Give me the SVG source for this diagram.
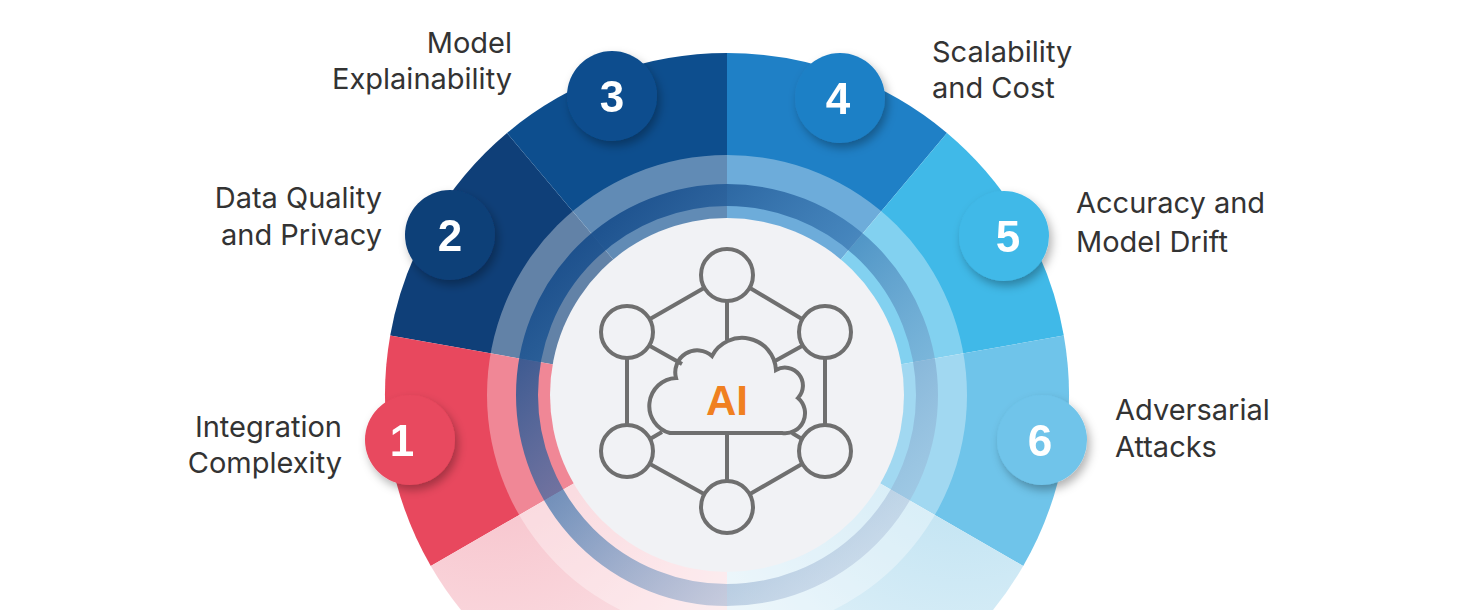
<svg xmlns="http://www.w3.org/2000/svg" width="1457" height="610" viewBox="0 0 1457 610">
<defs>
<style>
.lbl{font-family:Inter,"Noto Sans","Liberation Sans",sans-serif;font-size:29px;font-weight:400;fill:#333}
.num{font-family:"Liberation Sans",sans-serif;font-size:44px;font-weight:bold;fill:#fff;text-anchor:middle}
.ic{fill:none;stroke:#6f6f6f;stroke-width:4}
</style>
<filter id="sh" x="-50%" y="-50%" width="200%" height="200%"><feDropShadow dx="3" dy="5" stdDeviation="5" flood-color="#000" flood-opacity="0.3"/></filter>
<radialGradient id="bl" cx="0.2" cy="0" r="1"><stop offset="0" stop-color="#f6b9c3"/><stop offset="1" stop-color="#fbe3e7"/></radialGradient>
<radialGradient id="br" cx="0.8" cy="0" r="1"><stop offset="0" stop-color="#b5def0"/><stop offset="1" stop-color="#e3f2f9"/></radialGradient>
<linearGradient id="ring" x1="0" y1="0" x2="1" y2="1"><stop offset="0" stop-color="#0d3f7e"/><stop offset="0.45" stop-color="#2a6aa8" stop-opacity="0.6"/><stop offset="1" stop-color="#c0c6dc" stop-opacity="0.3"/></linearGradient>
</defs>
<rect width="1457" height="610" fill="#fff"/>
<g id="segments">
<path d="M727 395 L390.2 335.6 A342 342 0 0 1 507 133 Z" fill="#0f3f78"/>
<path d="M727 395 L507 133 A342 342 0 0 1 727 53 Z" fill="#0d4e8e"/>
<path d="M727 395 L727 53 A342 342 0 0 1 947 133 Z" fill="#1f80c6"/>
<path d="M727 395 L947 133 A342 342 0 0 1 1063.8 335.6 Z" fill="#40b9e8"/>
<path d="M727 395 L1063.8 335.6 A342 342 0 0 1 1023.2 566 Z" fill="#6fc4ea"/>
<path d="M727 395 L430.8 566 A342 342 0 0 1 390.2 335.6 Z" fill="#e8485e"/>
<path d="M727 395 L727 737 A342 342 0 0 1 430.8 566 Z" fill="url(#bl)"/>
<path d="M727 395 L1023.2 566 A342 342 0 0 1 727 737 Z" fill="url(#br)"/>
</g>
<circle cx="727" cy="395" r="240" fill="#fff" opacity="0.35"/>
<circle cx="727" cy="395" r="200" fill="none" stroke="url(#ring)" stroke-width="22"/>
<circle cx="727" cy="395" r="177" fill="#f1f2f5"/>
<g id="icon">
<g class="ic">
<circle cx="727" cy="275" r="26"/><circle cx="627" cy="332" r="26"/><circle cx="825" cy="332" r="26"/>
<circle cx="627" cy="451" r="26"/><circle cx="825" cy="451" r="26"/><circle cx="727" cy="507" r="26"/>
<path d="M704 288 L650 319 M750 288 L802 319 M627 358 V425 M825 358 V425 M650 464 L704 494 M802 464 L750 494 M727 301 V340 M727 433 V481 M650 346 L682 364 M802 346 L775 361 M650 439 L662 432 M802 439 L792 433"/>
<path d="M670 433 H782 A20 20 0 0 0 798 398 A18 18 0 0 0 776 370 A34 34 0 0 0 712 356 A22 22 0 0 0 676 378 A28 28 0 0 0 670 433 Z"/>
</g>
<text x="727" y="415" font-family="Liberation Sans,sans-serif" font-size="42" font-weight="bold" fill="#f08020" text-anchor="middle">AI</text>
</g>
<g id="badges" filter="url(#sh)">
<g id="b1"><circle cx="410" cy="440" r="45" fill="#e8485e"/><text class="num" x="402" y="456">1</text></g>
<g id="b2"><circle cx="450" cy="235" r="45" fill="#0f3f78"/><text class="num" x="450" y="251">2</text></g>
<g id="b3"><circle cx="612" cy="96" r="45" fill="#0d4e8e"/><text class="num" x="612" y="112">3</text></g>
<g id="b4"><circle cx="840" cy="98" r="45" fill="#1f80c6"/><text class="num" x="838" y="114">4</text></g>
<g id="b5"><circle cx="1004" cy="236" r="45" fill="#40b9e8"/><text class="num" x="1008" y="252">5</text></g>
<g id="b6"><circle cx="1042" cy="440" r="45" fill="#6fc4ea"/><text class="num" x="1040" y="456">6</text></g>
</g>
<g id="labels">
<text class="lbl" text-anchor="end" x="512" y="53">Model</text>
<text class="lbl" text-anchor="end" x="512" y="89">Explainability</text>
<text class="lbl" text-anchor="end" x="382" y="208">Data Quality</text>
<text class="lbl" text-anchor="end" x="382" y="245">and Privacy</text>
<text class="lbl" text-anchor="end" x="342" y="437">Integration</text>
<text class="lbl" text-anchor="end" x="342" y="473">Complexity</text>
<text class="lbl" x="932" y="62">Scalability</text>
<text class="lbl" x="932" y="98">and Cost</text>
<text class="lbl" x="1076" y="213">Accuracy and</text>
<text class="lbl" x="1076" y="252">Model Drift</text>
<text class="lbl" x="1115" y="420">Adversarial</text>
<text class="lbl" x="1115" y="457">Attacks</text>
</g>
</svg>
